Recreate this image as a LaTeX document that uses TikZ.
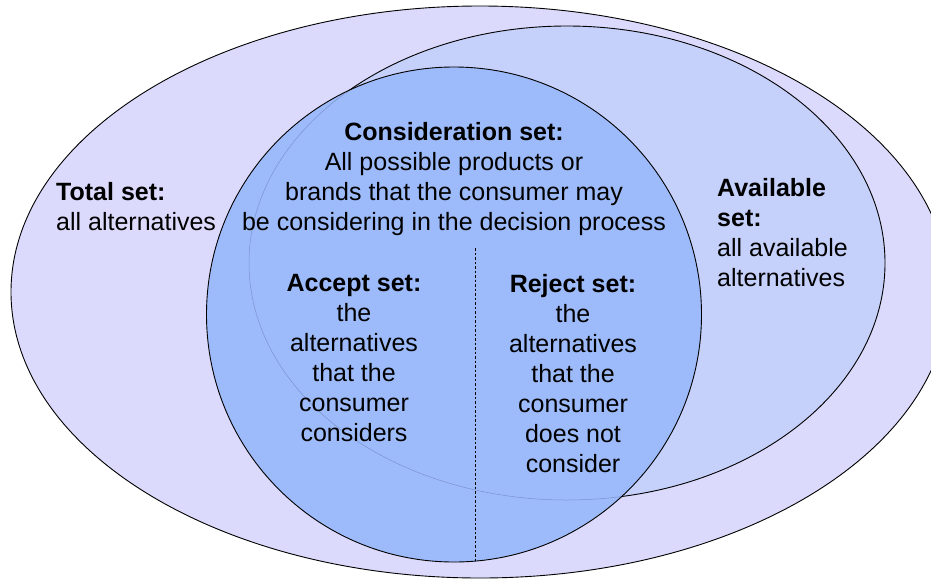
\documentclass[tikz,border=0pt]{standalone}
\usepackage{fontspec}
\setmainfont{Liberation Sans}
\definecolor{totalfill}{RGB}{220,218,252}
\definecolor{availfill}{RGB}{197,208,251}
\definecolor{consfill}{RGB}{157,187,251}
\definecolor{faintline}{RGB}{125,145,205}
\begin{document}
\begin{tikzpicture}[x=1pt,y=-1pt,
  setline/.style={draw=black,line width=0.9pt},
  lbl/.style={inner sep=0pt,font=\fontsize{25}{30}\selectfont},
  divider/.style={draw=black,line width=0.8pt,dash pattern=on 2.5pt off 2pt}]
\useasboundingbox (0,0) rectangle (931,579);
% total set
\fill[totalfill] (480,292) ellipse [x radius=469,y radius=286];
\draw[setline] (480,292) ellipse [x radius=469,y radius=286];
% available set
\fill[availfill] (567,263) ellipse [x radius=318,y radius=237];
\draw[setline] (567,263) ellipse [x radius=318,y radius=237];
% consideration set
\fill[consfill] (454,314.5) circle [radius=247.5];
\begin{scope}
  \clip (454,314.5) circle [radius=247.5];
  \draw[faintline,line width=0.5pt] (567,263) ellipse [x radius=318,y radius=237];
\end{scope}
\draw[setline] (454,314.5) circle [radius=247.5];
% divider
\coordinate (divtop) at (475,248);
\coordinate (divbot) at (475,561.5);
\draw[divider] (divtop) -- (divbot);
% labels
\node[lbl,anchor=north west,align=left] (total) at (56,182)
  {\textbf{Total set:}\\all alternatives};
\node[lbl,anchor=north west,align=left] (avail) at (717,178)
  {\textbf{Available}\\\textbf{set:}\\all available\\alternatives};
\node[lbl,anchor=north,align=center] (cons) at (454,122)
  {\textbf{Consideration set:}\\All possible products or\\brands that the consumer may\\be considering in the decision process};
\node[lbl,anchor=north,align=center] (accept) at (354,274)
  {\textbf{Accept set:}\\the\\alternatives\\that the\\consumer\\considers};
\node[lbl,anchor=north,align=center] (reject) at (573,274)
  {\textbf{Reject set:}\\the\\alternatives\\that the\\consumer\\does not\\consider};
\end{tikzpicture}
\end{document}
